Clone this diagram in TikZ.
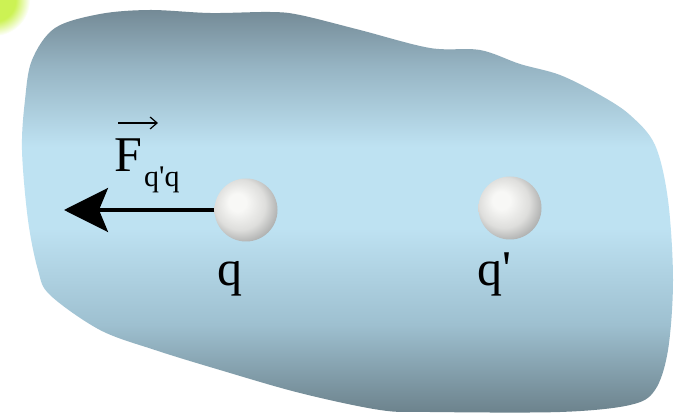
\documentclass[tikz,border=0pt]{standalone}
\usepackage{fontspec}
\setmainfont{Liberation Serif}[Ligatures=TeXOff]
\usetikzlibrary{arrows.meta}
\definecolor{bgtop}{RGB}{116,138,150}
\definecolor{bgupper}{RGB}{150,180,195}
\definecolor{bglight}{RGB}{190,226,242}
\definecolor{bglow}{RGB}{158,192,208}
\definecolor{bgbot}{RGB}{108,130,140}
\definecolor{lime}{RGB}{204,242,84}
\definecolor{sphhi}{RGB}{248,248,246}
\definecolor{sphmid}{RGB}{222,222,220}
\definecolor{sphedge}{RGB}{150,152,152}
\pgfdeclareverticalshading{mediumshade}{100bp}{
  color(0bp)=(bgbot); color(25bp)=(bgbot); color(36bp)=(bglow);
  color(48bp)=(bglight); color(58bp)=(bglight); color(68bp)=(bgupper);
  color(75bp)=(bgtop); color(100bp)=(bgtop)}
\pgfdeclareradialshading{sphereshade}{\pgfpoint{-8bp}{7bp}}{
  color(0bp)=(sphhi); color(7bp)=(sphhi); color(20bp)=(sphmid);
  color(34bp)=(sphedge); color(50bp)=(sphedge)}
\pgfdeclareradialshading{limeshade}{\pgfpoint{0bp}{0bp}}{
  color(0bp)=(lime); color(15bp)=(lime); color(25bp)=(white); color(50bp)=(white)}
\tikzset{
  charge/.style={circle, minimum size=63pt, inner sep=0pt, shading=sphereshade},
  biglabel/.style={font=\fontsize{50}{50}\selectfont, inner sep=0pt, text=black},
  sublabel/.style={font=\fontsize{30}{30}\selectfont, inner sep=0pt, text=black},
  forcearrow/.style={line width=3.3pt, -{Stealth[length=44pt, width=44pt, inset=9pt]}},
  vecarrow/.style={line width=1.2pt, -{Straight Barb[length=7pt, width=12pt]}}
}
\begin{document}
\begin{tikzpicture}[x=1pt, y=-1pt]
\useasboundingbox (0,0) rectangle (683,414);
\fill[white] (0,0) rectangle (683,414);
% green corner
\shade[shading=limeshade] (-6,0) circle (36);
% medium blob
\shade[shading=mediumshade] plot[smooth cycle, tension=0.55] coordinates {
 (100,14) (150,10) (210,13) (270,12) (300,15) (360,30) (430,48) (480,50)
 (520,64) (560,75) (600,95) (630,115) (655,145) (668,200) (673,280)
 (668,350) (655,390) (630,405) (560,412) (430,412) (380,410) (300,393)
 (220,370) (155,350) (100,330) (50,295) (38,270) (28,220) (22,150)
 (25,100) (32,60) (55,28)};
% charges
\node[charge] (q) at (246,210) {};
\node[charge] (qp) at (510,208) {};
\node[biglabel, anchor=base] (lq) at (230,285) {q};
\node[biglabel, anchor=base] (lqp) at (494,285) {q'};
% force
\coordinate (tip) at (64,210);
\draw[forcearrow] (q.west) -- (tip);
\node[biglabel, anchor=base west] (F) at (114,172) {F};
\node[sublabel, anchor=base west] (Fs) at (144,187) {q'q};
\coordinate (va) at (118,123);
\coordinate (vb) at (158,123);
\draw[vecarrow] (va) -- (vb);
\end{tikzpicture}
\end{document}
